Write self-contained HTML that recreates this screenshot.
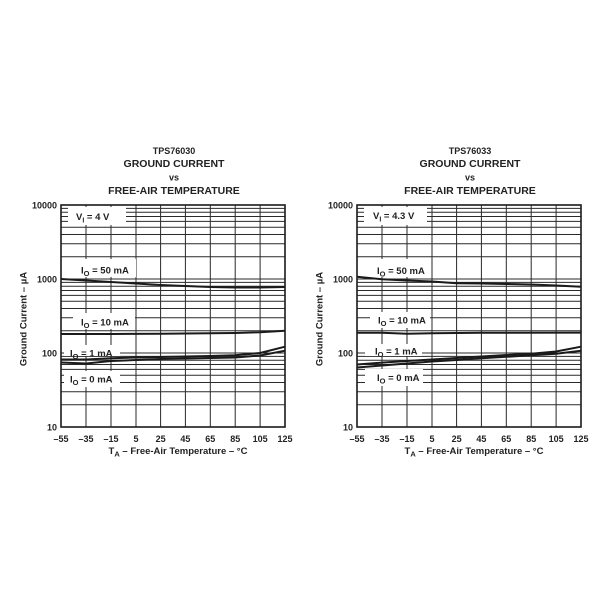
<!DOCTYPE html>
<html>
<head>
<meta charset="utf-8">
<style>
html,body{margin:0;padding:0;background:#fff;}
svg{display:block;}
text{font-family:"Liberation Sans",Arial,sans-serif;font-weight:bold;fill:#222;}
</style>
</head>
<body>
<svg width="600" height="600" viewBox="0 0 600 600" xmlns="http://www.w3.org/2000/svg">
<defs>
<g id="grid">
  <path fill="none" stroke="#2a2a2a" stroke-width="1" d="
  M61 404.7H285 M61 391.7H285 M61 382.5H285 M61 375.3H285 M61 369.4H285 M61 364.5H285 M61 360.2H285 M61 356.4H285
  M61 353H285
  M61 330.7H285 M61 317.7H285 M61 308.5H285 M61 301.3H285 M61 295.4H285 M61 290.5H285 M61 286.2H285 M61 282.4H285
  M61 279H285
  M61 256.7H285 M61 243.7H285 M61 234.5H285 M61 227.3H285 M61 221.4H285 M61 216.5H285 M61 212.2H285 M61 208.4H285
  M86 205V427 M111 205V427 M136 205V427 M160.6 205V427 M185.4 205V427 M210.3 205V427 M235.2 205V427 M260.1 205V427"/>
  <rect x="61" y="205" width="224" height="222" fill="none" stroke="#1a1a1a" stroke-width="1.6"/>
</g>
</defs>

<!-- LEFT CHART -->
<text x="174" y="154" font-size="9" text-anchor="middle">TPS76030</text>
<text x="174" y="167" font-size="10.5" text-anchor="middle">GROUND CURRENT</text>
<text x="174" y="180.5" font-size="9" text-anchor="middle">vs</text>
<text x="174" y="194" font-size="10.5" text-anchor="middle">FREE-AIR TEMPERATURE</text>

<use href="#grid"/>

<!-- label boxes left -->
<rect x="68" y="207" width="58" height="18" fill="#fff"/>
<rect x="74" y="259" width="62" height="18" fill="#fff"/>
<rect x="73" y="313" width="62" height="16" fill="#fff"/>
<rect x="64" y="345" width="56" height="11" fill="#fff"/>
<rect x="64" y="371" width="56" height="16" fill="#fff"/>

<!-- curves left -->
<g fill="none" stroke="#1a1a1a" stroke-width="2" stroke-linejoin="round">
<polyline points="61,279 86,280.5 111,282 136,283.5 160.6,285 185.4,286 210.3,287 235.2,287.5 260.1,287.5 285,287"/>
<polyline points="61,334 111,334 160.6,333.8 185.4,333.5 235.2,333 260.1,332.2 285,330.8"/>
<polyline points="61,359.5 86,359.5 111,358.2 136,357.5 160.6,357 185.4,356.5 210.3,356 235.2,355.3 260.1,353 285,346.7"/>
<polyline points="61,362.5 86,363.5 111,361 136,360 160.6,359 185.4,358.5 210.3,358 235.2,357.5 260.1,355.5 285,350.7"/>
</g>

<!-- labels left -->
<text x="76" y="220" font-size="9.5">V<tspan font-size="7" dy="2.5">I</tspan><tspan dy="-2.5"> = 4 V</tspan></text>
<text x="81" y="273.5" font-size="9.5">I<tspan font-size="7.5" dy="2.5">O</tspan><tspan dy="-2.5"> = 50 mA</tspan></text>
<text x="81" y="325.5" font-size="9.5">I<tspan font-size="7.5" dy="2.5">O</tspan><tspan dy="-2.5"> = 10 mA</tspan></text>
<text x="70" y="356.5" font-size="9.5">I<tspan font-size="7.5" dy="2.5">O</tspan><tspan dy="-2.5"> = 1 mA</tspan></text>
<text x="70" y="382.5" font-size="9.5">I<tspan font-size="7.5" dy="2.5">O</tspan><tspan dy="-2.5"> = 0 mA</tspan></text>

<!-- y ticks left -->
<g font-size="9" text-anchor="end">
<text x="57" y="208.5">10000</text>
<text x="57" y="282.5">1000</text>
<text x="57" y="356.5">100</text>
<text x="57" y="430.5">10</text>
</g>
<!-- x ticks left -->
<g font-size="9" text-anchor="middle">
<text x="61" y="442">–55</text>
<text x="86" y="442">–35</text>
<text x="111" y="442">–15</text>
<text x="136" y="442">5</text>
<text x="160.6" y="442">25</text>
<text x="185.4" y="442">45</text>
<text x="210.3" y="442">65</text>
<text x="235.2" y="442">85</text>
<text x="260.1" y="442">105</text>
<text x="285" y="442">125</text>
</g>
<text x="178" y="454" font-size="9.5" text-anchor="middle">T<tspan font-size="7.5" dy="2.5">A</tspan><tspan dy="-2.5"> – Free-Air Temperature – °C</tspan></text>
<text transform="translate(26.5,319) rotate(-90)" font-size="9.5" text-anchor="middle">Ground Current – µA</text>

<!-- RIGHT CHART -->
<text x="470" y="154" font-size="9" text-anchor="middle">TPS76033</text>
<text x="470" y="167" font-size="10.5" text-anchor="middle">GROUND CURRENT</text>
<text x="470" y="180.5" font-size="9" text-anchor="middle">vs</text>
<text x="470" y="194" font-size="10.5" text-anchor="middle">FREE-AIR TEMPERATURE</text>

<use href="#grid" x="296"/>

<rect x="364" y="207" width="63" height="18" fill="#fff"/>
<rect x="370" y="259" width="60" height="18" fill="#fff"/>
<rect x="370" y="312" width="60" height="16" fill="#fff"/>
<rect x="365" y="344" width="57" height="12" fill="#fff"/>
<rect x="365" y="369" width="58" height="17" fill="#fff"/>

<g fill="none" stroke="#1a1a1a" stroke-width="2" stroke-linejoin="round">
<polyline points="357,276.7 382,279.3 407,280.5 432,281.5 456.6,283.3 481.4,283.5 506.3,284 531.2,284.5 556.1,285.5 581,286.7"/>
<polyline points="357,332.7 382,332.8 407,333.8 432,333.3 481.4,332.8 581,332.6"/>
<polyline points="357,364.5 382,362.6 407,361 432,359.5 456.6,358 481.4,356.5 506.3,355 531.2,353.8 556.1,351.5 581,346.7"/>
<polyline points="357,367.5 382,365.5 407,363.5 432,361.5 456.6,360 481.4,358.3 506.3,356.8 531.2,355.3 556.1,353.8 581,350.7"/>
</g>

<text x="373" y="219" font-size="9.5">V<tspan font-size="7" dy="2.5">I</tspan><tspan dy="-2.5"> = 4.3 V</tspan></text>
<text x="377" y="274" font-size="9.5">I<tspan font-size="7.5" dy="2.5">O</tspan><tspan dy="-2.5"> = 50 mA</tspan></text>
<text x="378" y="323.5" font-size="9.5">I<tspan font-size="7.5" dy="2.5">O</tspan><tspan dy="-2.5"> = 10 mA</tspan></text>
<text x="375" y="354.5" font-size="9.5">I<tspan font-size="7.5" dy="2.5">O</tspan><tspan dy="-2.5"> = 1 mA</tspan></text>
<text x="377" y="381" font-size="9.5">I<tspan font-size="7.5" dy="2.5">O</tspan><tspan dy="-2.5"> = 0 mA</tspan></text>

<g font-size="9" text-anchor="end">
<text x="353" y="208.5">10000</text>
<text x="353" y="282.5">1000</text>
<text x="353" y="356.5">100</text>
<text x="353" y="430.5">10</text>
</g>
<g font-size="9" text-anchor="middle">
<text x="357" y="442">–55</text>
<text x="382" y="442">–35</text>
<text x="407" y="442">–15</text>
<text x="432" y="442">5</text>
<text x="456.6" y="442">25</text>
<text x="481.4" y="442">45</text>
<text x="506.3" y="442">65</text>
<text x="531.2" y="442">85</text>
<text x="556.1" y="442">105</text>
<text x="581" y="442">125</text>
</g>
<text x="474" y="454" font-size="9.5" text-anchor="middle">T<tspan font-size="7.5" dy="2.5">A</tspan><tspan dy="-2.5"> – Free-Air Temperature – °C</tspan></text>
<text transform="translate(322.5,319) rotate(-90)" font-size="9.5" text-anchor="middle">Ground Current – µA</text>
</svg>
</body>
</html>
